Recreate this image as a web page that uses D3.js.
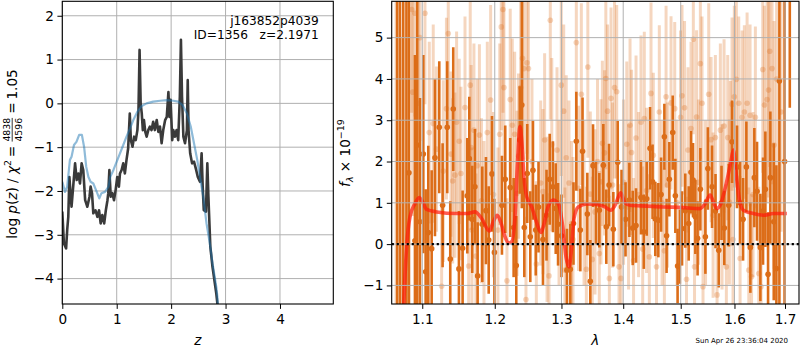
<!DOCTYPE html>
<html><head><meta charset="utf-8">
<script src="https://cdn.jsdelivr.net/npm/d3@7/dist/d3.min.js"></script>
<style>body{margin:0;background:#fff}text{font-family:"DejaVu Sans",sans-serif;fill:#000}</style>
</head><body><svg id="c" width="800" height="350"></svg>
<script>
// ---------- left panel data: log p(z) ----------
const pzDarkZ = [0.00,0.03,0.07,0.09,0.11,0.13,0.155,0.17,0.20,0.235,0.265,0.295,0.325,0.355,0.385,0.42,0.46,0.50,0.52,0.546,0.57,0.61,0.645,0.675,0.705,0.735,0.77,0.80,0.83,0.845,0.865,0.89,0.92,0.95,0.98,1.01,1.04,1.06,1.09,1.12,1.15,1.18,1.21,1.24,1.26,1.29,1.32,1.35,1.38,1.40,1.42,1.44,1.46,1.48,1.50,1.525,1.55,1.58,1.61,1.64,1.67,1.70,1.735,1.765,1.795,1.825,1.855,1.89,1.92,1.95,1.97,1.99,2.02,2.04,2.07,2.10,2.13,2.16,2.18,2.20,2.225,2.255,2.29,2.305,2.32,2.35,2.385,2.42,2.46,2.49,2.53,2.56,2.58,2.60,2.64,2.665,2.685,2.72,2.76,2.83,2.85,2.87];
const pzDark = [-2.47,-3.20,-3.31,-2.89,-2.59,-1.68,-2.13,-2.36,-1.90,-1.37,-1.75,-1.60,-1.83,-1.37,-1.52,-2.21,-2.36,-2.13,-1.90,-2.05,-2.51,-2.44,-2.59,-2.44,-2.74,-2.55,-2.74,-2.44,-2.21,-2.05,-1.52,-2.13,-2.05,-2.21,-1.98,-1.68,-1.90,-1.60,-1.52,-1.37,-1.60,-1.29,-1.03,-0.23,-0.84,-0.99,-0.76,-0.84,-0.61,-0.15,1.22,0.00,-0.23,-0.61,-0.38,-0.65,-0.76,-0.61,-0.53,-0.61,-0.42,-0.61,-0.38,-0.65,-0.53,-0.91,-0.61,-0.38,-0.31,0.26,-0.31,0.08,-0.84,-0.61,-0.76,-0.61,-0.84,0.15,1.45,0.15,-0.76,-0.91,-0.61,0.53,-0.61,-1.14,-1.37,-1.33,-1.52,-1.68,-1.79,-1.14,-1.90,-2.44,-2.47,-1.37,-2.13,-3.27,-3.73,-4.34,-4.57,-4.90];
const pzBlueZ = [0.00,0.05,0.09,0.14,0.17,0.215,0.26,0.31,0.36,0.40,0.44,0.48,0.52,0.57,0.62,0.68,0.72,0.785,0.85,0.88,0.94,1.00,1.06,1.12,1.18,1.245,1.305,1.38,1.46,1.55,1.67,1.80,1.92,2.04,2.13,2.21,2.29,2.36,2.42,2.48,2.53,2.59,2.65,2.72,2.76,2.83,2.85,2.87];
const pzBlue = [-1.79,-2.02,-1.90,-1.29,-1.22,-0.95,-0.88,-0.72,-0.72,-0.99,-1.45,-1.68,-1.79,-1.83,-1.98,-2.17,-2.05,-2.02,-1.90,-1.68,-1.52,-1.33,-1.14,-0.95,-0.76,-0.57,-0.38,-0.19,-0.06,0.00,0.04,0.06,0.075,0.06,0.04,-0.04,-0.23,-0.53,-0.91,-1.29,-1.68,-2.13,-2.74,-3.27,-3.65,-4.19,-4.42,-4.90];
const zTicks = [0,1,2,3,4];
const pTicks = [-4,-3,-2,-1,0,1,2];

// ---------- right panel data: spectrum [lambda, flux, error] ----------
const specLight = [[1.0660,6.5,8],[1.0730,-2.0,7],[1.0861,5.68,2.5],[1.0874,3.68,3.0],[1.0904,5.59,2.5],[1.0947,3.41,2.8],[1.0970,5.00,2.5],[1.1036,5.59,2.2],[1.1093,2.70,2.2],[1.1146,2.92,2.4],[1.1189,2.30,2.0],[1.1259,-1.02,2.0],[1.1281,1.77,2.2],[1.1324,3.28,2.2],[1.1349,5.10,2.3],[1.1386,2.18,2.0],[1.1409,1.53,2.0],[1.1440,1.67,2.0],[1.1463,2.95,2.2],[1.1499,2.49,2.0],[1.1523,1.71,2.1],[1.1579,3.31,2.2],[1.1630,-0.53,2.0],[1.1652,3.85,2.3],[1.1665,2.34,2.0],[1.1676,0.34,2.0],[1.1704,2.76,2.1],[1.1732,-0.29,2.0],[1.1750,1.90,2.1],[1.1781,2.64,2.2],[1.1810,1.05,2.0],[1.1846,0.50,2.0],[1.1893,2.70,2.2],[1.1941,3.49,2.3],[1.1981,1.20,2.0],[1.2046,0.34,2.0],[1.2072,2.66,2.2],[1.2094,5.26,2.5],[1.2119,5.68,2.5],[1.2133,3.79,2.3],[1.2177,-0.89,2.0],[1.2225,3.50,2.2],[1.2255,2.88,2.1],[1.2290,2.66,2.0],[1.2325,1.23,2.0],[1.2347,2.13,2.0],[1.2379,3.79,2.2],[1.2406,4.50,2.2],[1.2428,4.25,2.2],[1.2458,-1.34,2.0],[1.2473,4.39,2.2],[1.2495,4.25,2.2],[1.2548,2.00,2.0],[1.2614,-0.48,2.0],[1.2680,1.48,2.0],[1.2715,1.27,2.0],[1.2740,2.52,2.1],[1.2777,0.60,2.0],[1.2807,-0.77,2.0],[1.2827,5.42,2.4],[1.2850,2.41,2.1],[1.2931,2.28,2.0],[1.2962,1.00,2.0],[1.2997,3.85,2.2],[1.3035,3.22,2.1],[1.3055,-0.63,2.0],[1.3075,2.09,2.0],[1.3118,1.48,2.0],[1.3158,0.50,2.0],[1.3181,0.11,2.0],[1.3234,4.88,2.3],[1.3269,1.35,2.0],[1.3314,3.63,2.2],[1.3357,1.00,2.0],[1.3394,-0.61,2.0],[1.3418,4.29,2.2],[1.3458,1.21,2.0],[1.3490,-0.37,2.0],[1.3534,0.78,2.0],[1.3575,2.00,2.0],[1.3604,-0.23,2.0],[1.3632,1.51,2.0],[1.3654,2.44,2.0],[1.3690,2.21,2.0],[1.3711,4.01,2.2],[1.3739,3.22,2.1],[1.3769,-0.83,2.0],[1.3797,3.53,2.2],[1.3822,1.43,2.0],[1.3855,3.79,2.2],[1.3891,3.69,2.1],[1.3930,-0.55,2.0],[1.3964,-0.83,2.0],[1.4006,1.50,2.0],[1.4060,2.42,2.0],[1.4090,0.90,2.0],[1.4115,2.88,2.1],[1.4141,2.22,2.0],[1.4175,-0.40,2.0],[1.4217,2.57,2.0],[1.4260,1.20,2.0],[1.4302,2.95,2.1],[1.4331,-0.12,2.0],[1.4359,3.04,2.1],[1.4398,1.30,2.0],[1.4446,-0.31,2.0],[1.4475,3.65,2.2],[1.4515,2.15,2.0],[1.4571,-0.55,2.0],[1.4620,3.20,2.1],[1.4668,1.00,2.0],[1.4709,-0.16,2.0],[1.4739,3.57,2.2],[1.4765,1.43,2.0],[1.4827,3.42,2.1],[1.4893,3.28,2.1],[1.4935,1.00,2.0],[1.4997,3.07,2.1],[1.5024,3.59,2.2],[1.5069,3.30,2.1],[1.5105,-0.85,2.0],[1.5132,2.28,2.0],[1.5187,2.80,2.1],[1.5229,4.96,2.3],[1.5251,-0.55,2.0],[1.5288,3.08,2.1],[1.5325,1.50,2.0],[1.5358,4.37,2.3],[1.5389,3.41,2.1],[1.5407,-1.03,2.0],[1.5454,1.00,2.0],[1.5513,3.63,2.2],[1.5557,2.53,2.0],[1.5594,0.70,2.0],[1.5637,2.58,2.0],[1.5669,-1.23,2.0],[1.5731,2.76,2.1],[1.5763,0.90,2.0],[1.5801,2.86,2.1],[1.5845,-0.55,2.0],[1.5871,2.58,2.0],[1.5902,1.02,2.0],[1.5921,1.95,2.0],[1.5953,3.39,2.1],[1.5972,0.11,2.0],[1.5997,3.57,2.2],[1.6036,3.99,2.2],[1.6082,3.41,2.1],[1.6108,-0.35,2.0],[1.6147,3.07,2.1],[1.6191,3.20,2.1],[1.6244,3.41,2.2],[1.6277,-0.63,2.0],[1.6302,3.12,2.2],[1.6331,-0.79,2.0],[1.6361,1.20,2.0],[1.6406,3.07,2.2],[1.6473,-0.71,2.1],[1.6519,-1.03,2.2],[1.6552,4.23,2.5],[1.6584,3.37,2.4],[1.6638,3.50,2.5],[1.6668,3.73,2.6],[1.6692,4.67,2.8],[1.6738,4.25,2.8],[1.6778,2.40,3.0],[1.6830,4.00,3.0],[1.6920,3.20,2.9]];
const specDark = [[1.0674,-2.5,9],[1.0710,7.0,9],[1.0752,-1.8,8],[1.0793,6.5,8],[1.0826,1.73,5],[1.0904,0.08,4.5],[1.0934,2.40,4],[1.0970,0.54,3.0],[1.1014,2.18,2.4],[1.1045,-0.67,2.0],[1.1080,0.28,2.1],[1.1125,-0.11,1.9],[1.1169,2.09,1.9],[1.1227,2.83,1.6],[1.1272,0.94,1.5],[1.1335,2.83,1.6],[1.1376,-0.36,1.4],[1.1417,3.27,1.5],[1.1495,-0.60,1.4],[1.1546,-0.10,1.4],[1.1611,1.17,1.4],[1.1639,2.07,1.5],[1.1680,0.60,1.3],[1.1718,1.39,1.4],[1.1756,-0.77,1.3],[1.1822,0.48,1.4],[1.1874,0.81,1.3],[1.1913,0.10,1.3],[1.1960,1.70,1.4],[1.1995,-0.20,1.3],[1.2104,0.94,1.2],[1.2152,1.57,1.3],[1.2225,1.37,1.2],[1.2275,0.40,1.2],[1.2314,-0.52,1.2],[1.2365,2.52,1.3],[1.2396,3.37,2.5],[1.2433,0.40,1.2],[1.2477,1.71,1.2],[1.2523,0.18,1.1],[1.2563,1.79,1.2],[1.2605,0.34,1.1],[1.2647,0.90,1.1],[1.2715,0.11,1.1],[1.2769,0.70,1.1],[1.2818,1.57,1.1],[1.2868,1.39,1.1],[1.2911,0.86,1.1],[1.2947,0.48,1.0],[1.3000,0.20,1.0],[1.3086,-0.63,1.0],[1.3139,-0.61,1.1],[1.3189,0.50,1.0],[1.3234,2.49,1.2],[1.3298,0.34,1.0],[1.3333,2.25,1.3],[1.3410,0.73,1.0],[1.3458,-0.90,1.0],[1.3502,1.90,1.0],[1.3550,1.00,1.0],[1.3604,0.82,0.9],[1.3670,1.91,1.0],[1.3719,0.42,0.9],[1.3764,1.43,1.0],[1.3835,0.36,0.9],[1.3908,1.98,1.0],[1.3972,0.90,0.9],[1.4039,0.60,0.9],[1.4104,1.07,0.9],[1.4161,0.39,0.9],[1.4217,0.45,0.9],[1.4302,1.13,0.9],[1.4350,0.30,0.9],[1.4401,1.10,0.9],[1.4458,2.32,1.0],[1.4502,1.51,0.9],[1.4550,0.61,0.9],[1.4603,0.58,0.9],[1.4651,1.20,0.9],[1.4709,2.60,0.8],[1.4748,0.20,0.9],[1.4797,1.57,0.9],[1.4857,2.70,0.9],[1.4904,1.17,0.9],[1.4944,-0.53,0.9],[1.4985,-0.06,0.9],[1.5024,0.38,0.9],[1.5083,0.81,0.9],[1.5145,0.50,0.9],[1.5187,1.74,1.0],[1.5224,1.55,0.9],[1.5266,0.66,0.9],[1.5307,0.14,0.9],[1.5358,1.33,1.0],[1.5451,0.18,0.9],[1.5497,1.83,1.0],[1.5575,1.39,1.0],[1.5640,0.80,0.9],[1.5701,-0.15,0.9],[1.5753,1.00,0.9],[1.5806,0.39,0.9],[1.5890,0.94,1.0],[1.5953,2.48,1.0],[1.6049,1.87,1.0],[1.6108,1.00,1.0],[1.6166,0.60,1.0],[1.6230,1.87,1.1],[1.6308,-0.08,1.1],[1.6386,1.61,1.2],[1.6439,1.28,1.2],[1.6505,-0.08,1.3],[1.6558,0.80,1.3],[1.6604,1.33,1.4],[1.6658,-0.73,1.5],[1.6704,1.61,1.6],[1.6772,0.54,1.9],[1.6825,-0.59,2.5],[1.6886,3.95,6],[1.6991,2.00,8],[1.7098,7.00,3.7]];
const modelWave = [1.0735,1.0761,1.0796,1.0839,1.0904,1.0960,1.1005,1.1058,1.1192,1.1464,1.1602,1.1719,1.1813,1.1922,1.1979,1.2036,1.2085,1.2148,1.2196,1.2246,1.2295,1.2329,1.2369,1.2394,1.2428,1.2469,1.2544,1.2619,1.2685,1.2730,1.2796,1.2873,1.2951,1.3020,1.3071,1.3120,1.3150,1.3197,1.3265,1.3400,1.3562,1.3698,1.3792,1.3863,1.3958,1.4030,1.4115,1.4401,1.4691,1.4988,1.5353,1.5446,1.5539,1.5601,1.5664,1.5740,1.5821,1.5884,1.5935,1.5979,1.6031,1.6095,1.6172,1.6367,1.6565,1.6765,1.7037];
const modelFlux = [-3.0,-1.36,-0.06,0.66,0.98,1.13,1.02,0.84,0.78,0.74,0.74,0.78,0.62,0.32,0.54,0.70,0.54,0.18,0.03,0.06,0.66,1.87,2.85,2.52,1.63,1.15,0.90,0.52,0.28,0.48,0.92,1.07,0.98,0.42,-0.31,-0.55,-0.23,0.62,0.90,0.97,0.96,0.90,0.82,0.94,1.24,1.00,0.94,0.92,0.90,0.89,0.86,0.98,1.19,1.02,0.86,0.98,1.35,1.71,2.03,2.28,1.71,1.07,0.82,0.74,0.70,0.74,0.74];
const lamTicks = [1.1,1.2,1.3,1.4,1.5,1.6,1.7];
const fTicks = [-1,0,1,2,3,4,5];

const title1 = "j163852p4039";
const title2 = "ID=1356   z=2.1971";
const stamp = "Sun Apr 26 23:36:04 2020";

// ---------- drawing ----------
const svg = d3.select("#c");
const FS = 13.6, GRID = "#b0b0b0";
const fmtMinus = d => (d < 0 ? "\u2212" + Math.abs(d) : String(d));
const ORANGE = "#dc6d18";

function styleAxis(g){
  g.select(".domain").remove();
  g.selectAll(".tick line").attr("stroke","#000").attr("stroke-width",1);
  g.selectAll(".tick text").attr("font-size",FS).attr("font-family","DejaVu Sans");
}

// Left panel
const L = {x0:62.3, x1:333.3, y0:1.3, y1:304};
const xz = d3.scaleLinear().domain([0,4.98]).range([L.x0,L.x1]);
const yp = d3.scaleLinear().domain([-4.58,2.33]).range([L.y1,L.y0]);
svg.append("clipPath").attr("id","clipL").append("rect").attr("x",L.x0).attr("y",L.y0).attr("width",L.x1-L.x0).attr("height",L.y1-L.y0);
const gl = svg.append("g");
gl.selectAll("line.gx").data(zTicks).join("line").attr("x1",d=>xz(d)).attr("x2",d=>xz(d)).attr("y1",L.y0).attr("y2",L.y1).attr("stroke",GRID).attr("stroke-width",1);
gl.selectAll("line.gy").data(pTicks).join("line").attr("y1",d=>yp(d)).attr("y2",d=>yp(d)).attr("x1",L.x0).attr("x2",L.x1).attr("stroke",GRID).attr("stroke-width",1);
const glc = gl.append("g").attr("clip-path","url(#clipL)");
const lineL = d3.line().x(d=>xz(d[0])).y(d=>yp(d[1]));
glc.append("path").attr("d",lineL(pzDarkZ.map((z,i)=>[z,pzDark[i]]))).attr("fill","none").attr("stroke","#3a3a3a").attr("stroke-width",2.6).attr("stroke-linejoin","round");
glc.append("path").attr("d",lineL(pzBlueZ.map((z,i)=>[z,pzBlue[i]]))).attr("fill","none").attr("stroke","#1f77b4").attr("stroke-opacity",0.5).attr("stroke-width",2.2).attr("stroke-linejoin","round");
gl.append("rect").attr("x",L.x0).attr("y",L.y0).attr("width",L.x1-L.x0).attr("height",L.y1-L.y0).attr("fill","none").attr("stroke","#000").attr("stroke-width",1.1);
gl.append("g").attr("transform",`translate(0,${L.y1})`).call(d3.axisBottom(xz).tickValues(zTicks).tickFormat(fmtMinus).tickSize(4.9).tickPadding(5)).call(styleAxis);
gl.append("g").attr("transform",`translate(${L.x0},0)`).call(d3.axisLeft(yp).tickValues(pTicks).tickFormat(fmtMinus).tickSize(4.9).tickPadding(3.5)).call(styleAxis);
gl.append("text").attr("x",L.x1-14.5).attr("y",25).attr("text-anchor","end").attr("font-size",12.2).text(title1);
gl.append("text").attr("x",L.x1-14.5).attr("y",39).attr("text-anchor","end").attr("font-size",12.2).attr("xml:space","preserve").style("white-space","pre").text(title2);
gl.append("text").attr("x",(L.x0+L.x1)/2).attr("y",345).attr("text-anchor","middle").attr("font-size",FS).attr("font-style","italic").text("z");

// left y label with fraction
{
  const g0 = svg.append("g").attr("transform","translate(16.5,154) rotate(-90)");
  const g = g0.append("g");
  const t1 = g.append("text").attr("font-size",FS).attr("x",0).attr("y",0);
  t1.append("tspan").text("log ");
  t1.append("tspan").attr("font-style","italic").text("p");
  t1.append("tspan").text("(");
  t1.append("tspan").attr("font-style","italic").text("z");
  t1.append("tspan").text(") / ");
  t1.append("tspan").attr("font-style","italic").text("\u03C7");
  t1.append("tspan").attr("font-size",9.5).attr("dy",-5.5).text("2");
  t1.append("tspan").attr("dy",5.5).text("\u2009=\u2009");
  const w1 = t1.node().getComputedTextLength();
  const num = g.append("text").attr("font-size",9.3).attr("y",-6.5).text("4838");
  const den = g.append("text").attr("font-size",9.3).attr("y",5).text("4596");
  const wf = Math.max(num.node().getComputedTextLength(), den.node().getComputedTextLength());
  const fx = w1 + 1.5;
  num.attr("x",fx + wf/2).attr("text-anchor","middle");
  den.attr("x",fx + wf/2).attr("text-anchor","middle");
  g.append("line").attr("x1",fx).attr("x2",fx+wf).attr("y1",-4.3).attr("y2",-4.3).attr("stroke","#000").attr("stroke-width",0.8);
  const t3 = g.append("text").attr("font-size",FS).attr("x",fx+wf+1.5).attr("y",0).text("\u2009=\u20091.05");
  const W = fx + wf + 1.5 + t3.node().getComputedTextLength();
  g.attr("transform",`translate(${-W/2},0)`);
}

// Right panel
const R = {x0:391.7, x1:799, y0:1.3, y1:304};
const xl = d3.scaleLog().domain([1.0604,1.7288]).range([R.x0,R.x1]);
const yf = d3.scaleLinear().domain([-1.45,5.88]).range([R.y1,R.y0]);
svg.append("clipPath").attr("id","clipR").append("rect").attr("x",R.x0).attr("y",R.y0).attr("width",R.x1-R.x0).attr("height",R.y1-R.y0);
const gr = svg.append("g");
const grc = gr.append("g").attr("clip-path","url(#clipR)");
function errSeries(data, op, w, r){
  const g = grc.append("g");
  g.selectAll("line").data(data).join("line")
    .attr("x1",d=>xl(d[0])).attr("x2",d=>xl(d[0]))
    .attr("y1",d=>yf(d[1]-d[2])).attr("y2",d=>yf(d[1]+d[2]))
    .attr("stroke",ORANGE).attr("stroke-opacity",op).attr("stroke-width",w);
  g.selectAll("circle").data(data).join("circle")
    .attr("cx",d=>xl(d[0])).attr("cy",d=>yf(d[1])).attr("r",r)
    .attr("fill",ORANGE).attr("fill-opacity",op);
}
errSeries(specLight, 0.28, 3, 2.8);
errSeries(specDark, 1, 2.6, 2.8);
grc.append("path").attr("d",d3.line().x(d=>xl(d[0])).y(d=>yf(d[1])).curve(d3.curveMonotoneX)(modelWave.map((w,i)=>[w,modelFlux[i]])))
  .attr("fill","none").attr("stroke","#ff1a0a").attr("stroke-opacity",0.7).attr("stroke-width",3.6).attr("stroke-linejoin","round");
gr.selectAll("line.gx").data(lamTicks).join("line").attr("x1",d=>xl(d)).attr("x2",d=>xl(d)).attr("y1",R.y0).attr("y2",R.y1).attr("stroke",GRID).attr("stroke-width",1);
gr.selectAll("line.gy").data(fTicks).join("line").attr("y1",d=>yf(d)).attr("y2",d=>yf(d)).attr("x1",R.x0).attr("x2",R.x1).attr("stroke",GRID).attr("stroke-width",1);
gr.append("line").attr("x1",R.x0).attr("x2",R.x1).attr("y1",yf(0)).attr("y2",yf(0)).attr("stroke","#000").attr("stroke-width",2.2).attr("stroke-dasharray","2.2,2.8");
gr.append("rect").attr("x",R.x0).attr("y",R.y0).attr("width",R.x1-R.x0).attr("height",R.y1-R.y0).attr("fill","none").attr("stroke","#000").attr("stroke-width",1.1);
gr.append("g").attr("transform",`translate(0,${R.y1})`).call(d3.axisBottom(xl).tickValues(lamTicks).tickFormat(d3.format(".1f")).tickSize(4.9).tickPadding(5)).call(styleAxis);
gr.append("g").attr("transform",`translate(${R.x0},0)`).call(d3.axisLeft(yf).tickValues(fTicks).tickFormat(fmtMinus).tickSize(4.9).tickPadding(3.5)).call(styleAxis);
gr.append("text").attr("x",(R.x0+R.x1)/2).attr("y",345).attr("text-anchor","middle").attr("font-size",FS).attr("font-style","italic").text("\u03BB");
{
  const t = svg.append("text").attr("transform","translate(349.5,153) rotate(-90)").attr("text-anchor","middle").attr("font-size",FS);
  t.append("tspan").attr("font-style","italic").text("f");
  t.append("tspan").attr("font-size",9.5).attr("font-style","italic").attr("dy",3).text("\u03BB");
  t.append("tspan").attr("dy",-3).text(" \u00D7 10");
  t.append("tspan").attr("font-size",9.5).attr("dy",-5.5).text("\u221219");
}
svg.append("text").attr("x",695.5).attr("y",342.5).attr("font-size",7).text(stamp);
</script></body></html>
